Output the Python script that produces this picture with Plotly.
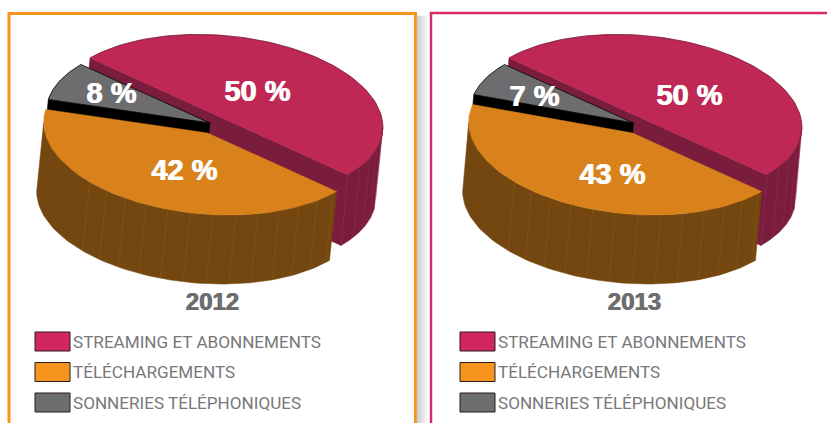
import numpy as np
import plotly.graph_objects as go

# --- data ---
categories = ["STREAMING ET ABONNEMENTS", "TÉLÉCHARGEMENTS", "SONNERIES TÉLÉPHONIQUES"]
years = ["2012", "2013"]
values_2012 = [50, 42, 8]
values_2013 = [50, 43, 7]

# --- styles ---
TOP = ["#BF2755", "#D9821B", "#6D6D6F"]
WALL = ["#7A1C3D", "#754710", "#000000"]
SWATCH = ["#D22660", "#F7941E", "#6D6E70"]
GREY = "#78787A"

# --- projection of the unit pie disc on the page (conjugate axes of the ellipse) ---
U = np.array([129.0, 58.5])
V = np.array([101.0, -57.5])
DROP = {"2012": np.array([-7.0, 69.0]), "2013": np.array([-6.0, 69.0])}
RED_EXTRA = np.array([0.0, 1.5])
APEX = {
    "2012": [np.array([219.0, 116.5]), np.array([207.5, 133.0]), np.array([210.0, 123.0])],
    "2013": [np.array([638.0, 116.5]), np.array([632.5, 133.0]), np.array([633.5, 123.0])],
}
LABELS = {"2012": [(257, 94), (184, 173), (111, 96)], "2013": [(689, 98), (612, 177), (534, 99)]}
YEAR_XY = {"2012": (212, 304), "2013": (634, 304)}
LEG_X = {"2012": 35, "2013": 460}
LEG_Y = [332, 362.5, 393]
VALUES = {"2012": values_2012, "2013": values_2013}


def rim(apex, a0, a1, n=80):
    t = np.radians(np.linspace(a0, a1, n))
    return apex + np.outer(np.cos(t), U) + np.outer(np.sin(t), V)


def poly(fig, pts, fill, line=None, width=0.0):
    pts = np.vstack([pts, pts[:1]])
    fig.add_trace(go.Scatter(
        x=pts[:, 0], y=pts[:, 1], mode="lines", fill="toself", fillcolor=fill,
        line=dict(color=line or fill, width=width if line else 0.5),
        hoverinfo="skip", showlegend=False))


fig = go.Figure()

# soft shadow between the two panels
for i in range(12):
    shade = 205 + int(50 * i / 11)
    col = f"rgb({shade},{shade},{shade})"
    poly(fig, np.array([[417.0 + i, 16.0], [418.0 + i, 16.0], [418.0 + i, 423.0], [417.0 + i, 423.0]]), col)

for year in years:
    vals = VALUES[year]
    drop = DROP[year]
    red_drop = drop + RED_EXTRA
    red_span = vals[0] / 100 * 360
    or_span = vals[1] / 100 * 360
    ca, oa, ga = APEX[year]
    # angles: streaming runs 0 -> +180 ; downloads 0 -> -span ; ringtones up to -180
    edge = np.degrees(np.arctan2(V[0], U[0]))  # silhouette angle of the ellipse

    # streaming: chord wall, outer wall, top
    a = ca + U
    b = ca - U
    poly(fig, np.array([a, b, b + red_drop, a + red_drop]), WALL[0])
    r = rim(ca, 0, edge)
    poly(fig, np.vstack([r, (r + red_drop)[::-1]]), WALL[0])
    for ang in np.arange(0, edge, 7.5)[1:]:
        p = rim(ca, ang, ang, 1)[0]
        fig.add_trace(go.Scatter(x=[p[0], p[0] + red_drop[0]], y=[p[1], p[1] + red_drop[1]], mode="lines",
                                 line=dict(color="rgba(160,50,90,0.6)", width=0.6),
                                 hoverinfo="skip", showlegend=False))
    t = rim(ca, 0, red_span)
    poly(fig, t, TOP[0])
    fig.add_trace(go.Scatter(x=t[:, 0], y=t[:, 1], mode="lines", line=dict(color="#5A1530", width=0.6),
                             hoverinfo="skip", showlegend=False))

    # ringtones: black cut wall and top
    g_start = -or_span
    g_end = -180
    p0 = rim(ga, g_start, g_start, 1)[0]
    poly(fig, np.array([ga, p0, p0 + drop, ga + drop]), WALL[2])
    poly(fig, np.vstack([[ga], rim(ga, g_start, g_end, 30)]), TOP[2], "#000000", 0.8)

    # downloads: outer wall, facets, top
    lo = max(-or_span, edge - 180)
    r = rim(oa, lo, 0)
    poly(fig, np.vstack([r, (r + drop)[::-1]]), WALL[1])
    for ang in np.arange(-98, -1, 8.0):
        p = rim(oa, ang, ang, 1)[0]
        fig.add_trace(go.Scatter(x=[p[0], p[0] + drop[0]], y=[p[1], p[1] + drop[1]], mode="lines",
                                 line=dict(color="rgba(170,110,40,0.4)", width=0.6),
                                 hoverinfo="skip", showlegend=False))
    poly(fig, np.vstack([[oa], rim(oa, 0, -or_span)]), TOP[1])

    # percentage labels
    for (x, y), v in zip(LABELS[year], vals):
        fig.add_trace(go.Scatter(x=[x], y=[y], mode="text", text=[f"<b>{v} %</b>"],
                                 textfont=dict(family="Liberation Sans", size=29, color="white",
                                               shadow="1px 0 0 white"),
                                 hoverinfo="skip", showlegend=False))
    # year
    fig.add_trace(go.Scatter(x=[YEAR_XY[year][0]], y=[YEAR_XY[year][1]], mode="text", text=[f"<b>{year}</b>"],
                             textfont=dict(family="Liberation Sans", size=24, color="#6D6D6F",
                                           shadow="1px 0 0 #6D6D6F"),
                             hoverinfo="skip", showlegend=False))
    # legend
    lx = LEG_X[year]
    for ly, cat, col in zip(LEG_Y, categories, SWATCH):
        fig.add_trace(go.Scatter(x=[lx + 38], y=[ly + 11.5], mode="text", text=[cat], textposition="middle right",
                                 textfont=dict(family="Roboto", size=17.1, color=GREY),
                                 hoverinfo="skip", showlegend=False))

shapes = []
# panel frames
shapes.append(dict(type="path", xref="x", yref="y", path="M 9 430 L 9 13.5 L 415.5 13.5 L 415.5 430",
                   line=dict(color="#F7941E", width=3), layer="below"))
shapes.append(dict(type="path", xref="x", yref="y", path="M 431 430 L 431 13 L 835 13",
                   line=dict(color="#D52B66", width=2.5), layer="below"))
# legend swatches
for year in years:
    lx = LEG_X[year]
    for ly, col in zip(LEG_Y, SWATCH):
        shapes.append(dict(type="rect", xref="x", yref="y", x0=lx, x1=lx + 35, y0=ly, y1=ly + 19,
                           fillcolor=col, line=dict(color="#2A1A1A", width=1)))

fig.update_layout(
    width=827, height=423, margin=dict(l=0, r=0, t=0, b=0),
    paper_bgcolor="white", plot_bgcolor="white", showlegend=False, shapes=shapes,
    xaxis=dict(range=[0, 827], visible=False, fixedrange=True),
    yaxis=dict(range=[423, 0], visible=False, fixedrange=True),
)
fig.write_html("out.html", config={"displayModeBar": False},
               post_script="document.body.style.margin='0';document.body.style.overflow='hidden';")
